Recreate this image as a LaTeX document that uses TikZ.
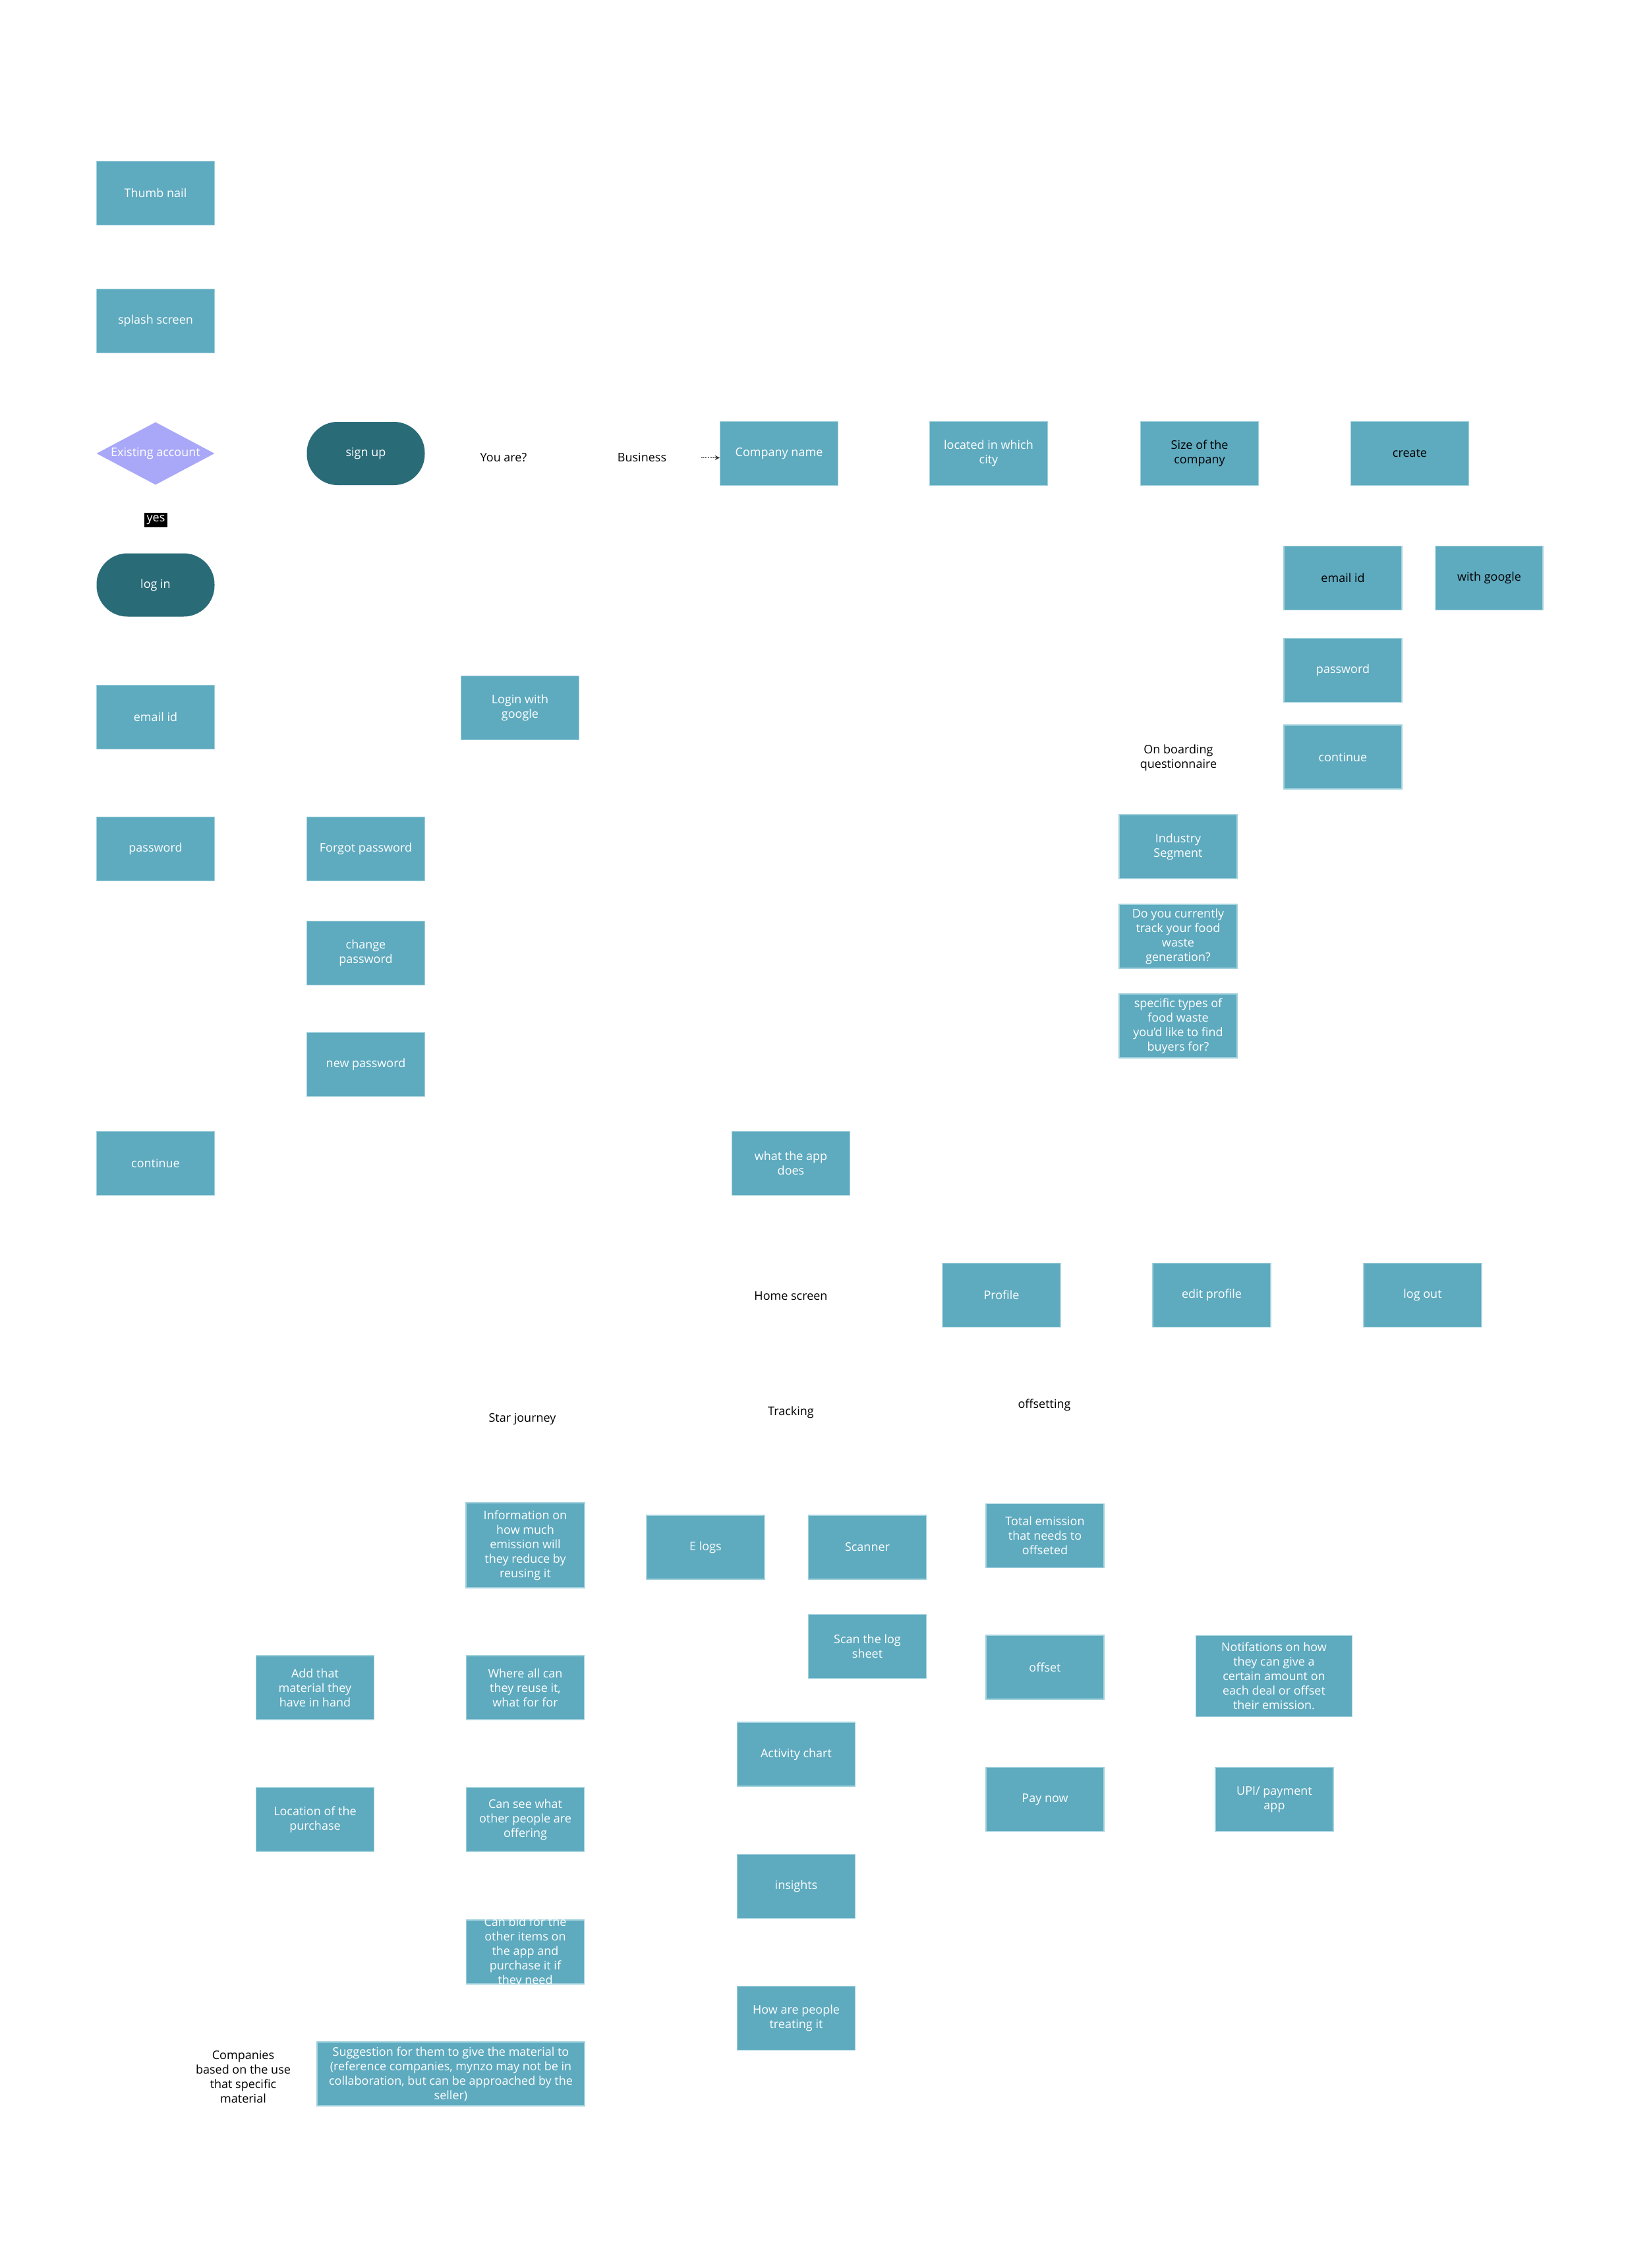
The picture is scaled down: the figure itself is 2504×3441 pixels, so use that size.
\documentclass[tikz,border=0pt]{standalone}
\usepackage{fontspec}
\setmainfont{Open Sans}
\usetikzlibrary{shapes.geometric,arrows.meta}
\definecolor{boxfill}{HTML}{5EAABF}
\definecolor{boxedge}{HTML}{A3D2DE}
\definecolor{pillfill}{HTML}{2A6B78}
\definecolor{lav}{HTML}{A9A8F8}
\begin{document}
\begin{tikzpicture}[x=1pt,y=-1pt,
  every node/.style={font=\fontsize{18}{22}\selectfont, align=center, inner sep=0pt},
  card/.style={rectangle, fill=boxfill, draw=boxedge, line width=1.2pt, minimum width=179pt, minimum height=97pt, text=white},
  pill/.style={rectangle, rounded corners=47pt, fill=pillfill, minimum width=179pt, minimum height=96pt, text=white},
  plain/.style={text=black},
]
\fill[white] (0,0) rectangle (2504,3441);
\useasboundingbox (0,0) rectangle (2504,3441);

% left column
\node[card] (thumb) at (236,293) {Thumb nail};
\node[card] (splash) at (236,487) {splash screen};
\node[diamond, fill=lav, minimum width=179pt, minimum height=95pt, inner sep=0pt] (exist) at (236,688) {};
\node[text=white] (existtxt) at (exist.center) {Existing account};
\node[fill=black, text=white, inner xsep=3.5pt, inner ysep=0pt, minimum height=22pt] (yes) at (236.5,789) {yes};
\node[pill] (login) at (236,887.5) {log in};
\node[card] (email) at (236,1088) {email id};
\node[card] (pwd) at (236,1288) {password};
\node[card] (cont) at (236,1765) {continue};

% second column
\node[pill] (signup) at (555,688) {sign up};
\node[card] (forgot) at (555,1288) {Forgot password};
\node[card] (change) at (555,1446) {change\\password};
\node[card] (newpwd) at (555,1615) {new password};
\node[card] (google) at (789,1074) {Login with\\google};

% sign up row
\node[plain] (youare) at (764,694) {You are?};
\node[plain] (business) at (974,694) {Business};
\node[card] (company) at (1182,688) {Company name};
\node[card] (city) at (1500,688) {located in which\\city};
\node[card, text=black] (size) at (1820,688) {Size of the\\company};
\node[card, text=black] (create) at (2139,688) {create};
\coordinate (arrstart) at (1064,694.5);
\draw[line width=1.8pt, black!85, dash pattern=on 1.5pt off 1pt, -{Stealth[length=7pt,width=7pt]}] (arrstart) -- (arrstart -| company.west);

% right account block
\node[card, text=black] (remail) at (2037.5,877) {email id};
\node[card, text=black, minimum width=163pt] (rgoogle) at (2259.5,877) {with google};
\node[card] (rpwd) at (2037.5,1017) {password};
\node[card] (rcont) at (2037.5,1148.5) {continue};

% onboarding
\node[plain] (onboard) at (1788,1150) {On boarding\\questionnaire};
\node[card] (industry) at (1787.5,1284.5) {Industry\\Segment};
\node[card] (track) at (1787.5,1420.5) {Do you currently\\track your food\\waste\\generation?};
\node[card] (types) at (1787.5,1556.5) {specific types of\\food waste\\you'd like to find\\buyers for?};

% home
\node[card] (whatapp) at (1200,1765) {what the app\\does};
\node[plain] (home) at (1200,1966) {Home screen};
\node[card] (profile) at (1519.5,1965) {Profile};
\node[card] (editp) at (1838.5,1965) {edit profile};
\node[card] (logout) at (2158.5,1965) {log out};

% section headings
\node[plain] (star) at (792.5,2153) {Star journey};
\node[plain] (tracking) at (1200,2143) {Tracking};
\node[plain] (offsetting) at (1584.5,2132) {offsetting};

% star journey
\node[card, minimum width=180pt, minimum height=129pt] (info) at (797,2344.5) {Information on\\how much\\emission will\\they reduce by\\reusing it};
\node[card] (addmat) at (478,2560.5) {Add that\\material they\\have in hand};
\node[card] (reuse) at (797,2560.5) {Where all can\\they reuse it,\\what for for};
\node[card] (location) at (478,2760.5) {Location of the\\purchase};
\node[card] (cansee) at (797,2760.5) {Can see what\\other people are\\offering};
\node[card] (canbid) at (797,2961.5) {};
\node[text=white] (canbidtxt) at (canbid.center) {Can bid for the\\other items on\\the app and\\purchase it if\\they need};
\node[plain] (companies) at (369,3151) {Companies\\based on the use\\that specific\\material};
\node[card, minimum width=406pt] (suggest) at (684,3146.5) {Suggestion for them to give the material to\\(reference companies, mynzo may not be in\\collaboration, but can be approached by the\\seller)};

% tracking
\node[card] (elogs) at (1070.5,2347.5) {E logs};
\node[card] (scanner) at (1316,2347.5) {Scanner};
\node[card] (scanlog) at (1316,2498) {Scan the log\\sheet};
\node[card] (activity) at (1208,2661.5) {Activity chart};
\node[card] (insights) at (1208,2862) {insights};
\node[card] (howpeople) at (1208,3062) {How are people\\treating it};

% offsetting
\node[card] (total) at (1585.5,2330) {Total emission\\that needs to\\offseted};
\node[card] (offset) at (1585.5,2529.5) {offset};
\node[card, minimum width=237pt, minimum height=123pt] (notif) at (1933,2543) {Notifations on how\\they can give a\\certain amount on\\each deal or offset\\their emission.};
\node[card] (paynow) at (1585.5,2730) {Pay now};
\node[card] (upi) at (1933.5,2730) {UPI/ payment\\app};
\end{tikzpicture}
\end{document}
